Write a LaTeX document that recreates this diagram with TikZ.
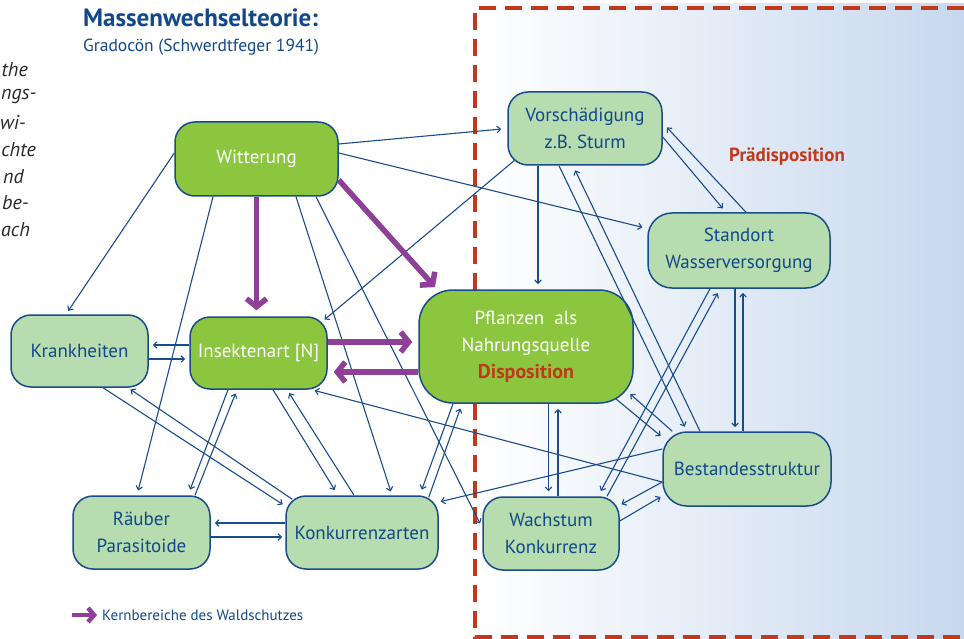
\documentclass[tikz,border=0pt]{standalone}
\usepackage{fontspec}
\setmainfont{PT Sans}
\usetikzlibrary{arrows.meta,calc}

\definecolor{blattgruen}{RGB}{140,198,63}
\definecolor{hellgruen}{RGB}{182,220,176}
\definecolor{rahmenblau}{RGB}{24,76,140}
\definecolor{textblau}{RGB}{18,72,138}
\definecolor{kernlila}{RGB}{142,63,151}
\definecolor{rostrot}{RGB}{192,57,27}
\definecolor{hgblau}{RGB}{199,216,238}
\definecolor{grautext}{RGB}{40,40,40}

\begin{document}
\begin{tikzpicture}[
    x=1pt, y=-1pt,
    font=\fontsize{19}{27}\selectfont,
    kernbox/.style={draw=rahmenblau, fill=blattgruen, text=white, line width=1.5pt, rounded corners=20pt, align=center, inner sep=0pt},
    nebenbox/.style={draw=rahmenblau, fill=hellgruen, text=textblau, line width=1.5pt, rounded corners=20pt, align=center, inner sep=0pt},
    link/.style={-{Straight Barb[length=3.5pt,width=6.5pt]}, draw=rahmenblau, line width=1.1pt},
    kern/.style={-{Straight Barb[length=8pt,width=20pt]}, draw=kernlila, line width=5.5pt},
    randtext/.style={text=grautext, inner sep=0pt, font=\fontsize{20}{22}\selectfont\itshape}
]
    \useasboundingbox (0,0) rectangle (964,639);
    \clip (0,0) rectangle (964,639);

    % Praedisposition area (gradient + dashed frame)
    \shade[left color=white, right color=hgblau] (475,4) rectangle (964,639);
    \draw[rostrot, line width=3.5pt, dash pattern=on 17pt off 9pt] (990,8) -- (475,8) -- (475,637) -- (990,637);
    \node[text=rostrot, font=\fontsize{19}{22}\bfseries] (praedisp) at (787,157) {Prädisposition};

    % Title
    \node[anchor=west, inner sep=0pt, text=textblau, font=\fontsize{25}{28}\bfseries] (titel) at (83,18) {Massenwechselteorie:};
    \node[anchor=west, inner sep=0pt, text=textblau, font=\fontsize{17.5}{20}\selectfont] (untertitel) at (83,47) {Gradocön (Schwerdtfeger 1941)};

    % Cut-off text of the neighbouring column
    \node[randtext, anchor=east] (r1) at (28,70) {the};
    \node[randtext, anchor=west] (r2) at (1,97) {ngs-};
    \node[randtext, anchor=east] (r3) at (26,123) {wi-};
    \node[randtext, anchor=east] (r4) at (36,150) {chte};
    \node[randtext, anchor=east] (r5) at (24,177) {nd};
    \node[randtext, anchor=west] (r6) at (2,203) {be-};
    \node[randtext, anchor=west] (r7) at (1,230) {ach};

    % Boxes
    \node[kernbox, minimum width=163pt, minimum height=74pt] (witt) at (256.5,159) {Witterung};
    \node[nebenbox, minimum width=154pt, minimum height=73pt] (vor) at (585,128.5) {Vorschädigung\\z.B. Sturm};
    \node[nebenbox, minimum width=182pt, minimum height=75pt, rounded corners=24pt] (stand) at (739,250.5) {Standort\\Wasserversorgung};
    \node[nebenbox, minimum width=137pt, minimum height=72pt] (krank) at (79.5,351) {Krankheiten};
    \node[kernbox, minimum width=137pt, minimum height=72pt] (insekt) at (258.5,353) {Insektenart [N]};
    \node[kernbox, minimum width=214pt, minimum height=113pt, rounded corners=34pt] (pflanz) at (526,346.5)
        {Pflanzen\ \ als\\Nahrungsquelle\\{\color{rostrot}\fontsize{20}{27}\bfseries Disposition}};
    \node[nebenbox, minimum width=168pt, minimum height=74pt, rounded corners=24pt] (best) at (747,469) {Bestandesstruktur};
    \node[nebenbox, minimum width=137pt, minimum height=73pt] (raeub) at (141.5,532.5) {Räuber\\Parasitoide};
    \node[nebenbox, minimum width=152pt, minimum height=73pt] (konk) at (362,532.5) {Konkurrenzarten};
    \node[nebenbox, minimum width=136pt, minimum height=73pt] (wachs) at (551,533.5) {Wachstum\\Konkurrenz};

    % Witterung
    \draw[link, shorten >=4pt] ([yshift=6pt]witt.west) -- ([xshift=-13.5pt]krank.north);
    \draw[link, shorten >=5pt] ([xshift=-43.5pt]witt.south) -- ([xshift=-4.5pt]raeub.north);
    \draw[link, shorten >=4pt] ([xshift=39.5pt]witt.south) -- ([xshift=30pt]konk.north);
    \draw[link, shorten >=5pt] ([xshift=59.5pt]witt.south) -- ([yshift=5.5pt]wachs.west);
    \draw[link, shorten >=6pt] ([yshift=15pt]witt.east) -- (vor.west);
    \draw[link, shorten >=5pt] ([yshift=6pt]witt.east) -- ([yshift=22pt]stand.west);

    % Vorschaedigung
    \draw[link, shorten >=1pt] ([xshift=8pt,yshift=6pt]vor.south west) -- ([xshift=-4pt,yshift=-4pt]insekt.north east);
    \draw[link, shorten >=5pt] ([xshift=-47pt]vor.south) -- ([xshift=12pt]pflanz.north);
    \draw[link, shorten >=5pt] ([xshift=-26pt]vor.south) -- ([xshift=-60pt]best.north);
    \draw[link, shorten >=5pt] ([xshift=-47pt]best.north) -- ([xshift=-12pt]vor.south);
    \draw[link, shorten >=6pt] ([xshift=7pt]stand.north) -- ([yshift=5.5pt]vor.east);
    \draw[link, shorten >=5pt] ([yshift=-8.5pt]vor.east) -- ([xshift=-13pt]stand.north);

    % Standort
    \draw[link, shorten >=4pt] ([xshift=-4pt]stand.south) -- ([xshift=-12pt]best.north);
    \draw[link, shorten >=4pt] ([xshift=-4pt]best.north) -- ([xshift=4pt]stand.south);
    \draw[link, shorten >=6pt] ([xshift=-29pt]stand.south) -- ([xshift=47pt]wachs.north);
    \draw[link, shorten >=5pt] ([xshift=56pt]wachs.north) -- ([xshift=-19pt]stand.south);

    % Pflanzen
    \draw[link, shorten >=2pt] ([xshift=-18pt,yshift=5pt]pflanz.south east) -- ([yshift=-6pt]best.north west);
    \draw[link, shorten >=2pt] ([xshift=10pt]best.north west) -- ([xshift=-5pt,yshift=11pt]pflanz.south east);
    \draw[link, shorten >=5pt] ([xshift=22.5pt]pflanz.south) -- ([xshift=-2.5pt]wachs.north);
    \draw[link, shorten >=5pt] ([xshift=7pt]wachs.north) -- ([xshift=32pt]pflanz.south);
    \draw[link, shorten >=6pt] ([xshift=-73pt]pflanz.south) -- ([xshift=-19pt]konk.north east);
    \draw[link, shorten >=5pt] ([xshift=-10pt,yshift=-2pt]konk.north east) -- ([xshift=-64pt]pflanz.south);

    % Bestandesstruktur
    \draw[link, shorten >=3pt] ([yshift=-13pt]best.west) -- ([xshift=-16pt]insekt.south east);
    \draw[link, shorten >=2pt] ([yshift=20pt]best.west) -- ([yshift=30.5pt]konk.east);
    \draw[link, shorten >=2pt] ([yshift=-13pt]best.west) -- ([yshift=-9pt]wachs.north east);
    \draw[link, shorten >=2pt] ([yshift=12.5pt]wachs.east) -- ([yshift=-27pt]best.west);

    % Insektenart und Gegenspieler
    \draw[link, shorten >=6pt] ([xshift=14.5pt]insekt.south) -- ([xshift=-24pt]konk.north);
    \draw[link, shorten >=4pt] ([xshift=-8pt]konk.north) -- ([xshift=28.5pt]insekt.south);
    \draw[link, shorten >=6pt] ([xshift=-30.5pt]insekt.south) -- ([xshift=46.5pt]raeub.north);
    \draw[link, shorten >=4pt] ([xshift=53.5pt]raeub.north) -- ([xshift=-21.5pt]insekt.south);
    \draw[link, shorten >=4pt] ([yshift=8pt]insekt.west) -- ([yshift=6pt]krank.east);
    \draw[link, shorten >=4pt] ([yshift=-8pt]krank.east) -- ([yshift=-6pt]insekt.west);
    \draw[link, shorten >=3pt] ([xshift=23.5pt]krank.south) -- ([yshift=26.5pt]konk.west);
    \draw[link, shorten >=3pt] ([xshift=7pt,yshift=-4pt]konk.north west) -- ([xshift=48.5pt]krank.south);
    \draw[link, shorten >=4pt] ([yshift=9.5pt]konk.west) -- ([yshift=9.5pt]raeub.east);
    \draw[link, shorten >=3pt] ([yshift=-4.5pt]raeub.east) -- ([yshift=-4.5pt]konk.west);

    % Kernbereiche (thick arrows)
    \draw[kern, shorten >=6pt] (witt.south) -- (witt.south |- insekt.north);
    \draw[kern, shorten >=3pt] ([yshift=-21pt]witt.east) -- ([xshift=-89pt]pflanz.north);
    \draw[kern, shorten >=6pt] ([yshift=11pt]insekt.east) -- ([yshift=4.5pt]pflanz.west);
    \draw[kern, shorten >=6pt] ([yshift=-25.5pt]pflanz.west) -- ([yshift=-19pt]insekt.east);

    % Legend
    \coordinate (legpfeil) at (72,615);
    \node[anchor=west, inner sep=0pt, text=textblau, font=\fontsize{15}{18}\selectfont] (legtext) at (102,615) {Kernbereiche des Waldschutzes};
    \draw[kern, line width=4.5pt, -{Straight Barb[length=6pt,width=14pt]}] (legpfeil) -- ([xshift=-5pt]legtext.west);
\end{tikzpicture}
\end{document}
